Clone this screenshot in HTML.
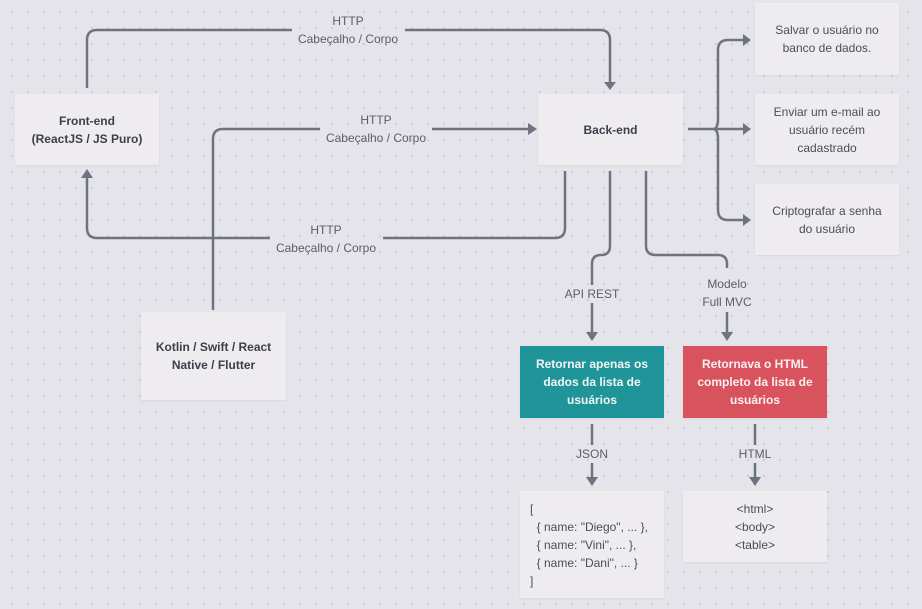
<!DOCTYPE html>
<html><head><meta charset="utf-8"><style>
html,body{margin:0;padding:0}
body{width:922px;height:609px;overflow:hidden;background-color:#e5e4eb;background-image:radial-gradient(circle,#c9c8d2 0.8px,transparent 1.2px);background-size:16px 16px;background-position:4px 4px;font-family:"Liberation Sans",sans-serif;position:relative}
.b{position:absolute;background:#efecf0;display:flex;align-items:center;justify-content:center;text-align:center;font-size:12px;line-height:18px;color:#4a4d58;box-shadow:0 1px 2px rgba(0,0,0,0.06)}
.bold{font-weight:bold;color:#3c3f4a}
.t{position:absolute;font-size:12px;line-height:18px;color:#5a5e6a;text-align:center;transform:translateX(-50%);white-space:nowrap}
svg{position:absolute;left:0;top:0}
</style></head><body>
<svg width="922" height="609" viewBox="0 0 922 609" fill="none" stroke="#6e7380" stroke-width="2.5">
<path d="M87 88 V40 Q87 30 97 30 H292 M405 30 H600 Q610 30 610 40 V82"/>
<path d="M213 310 V139 Q213 129 223 129 H320 M432 129 H528"/>
<path d="M565 171 V228 Q565 238 555 238 H383 M270 238 H97 Q87 238 87 228 V178"/>
<path d="M688 129 H713 M750 40 H728 Q718 40 718 50 V119 Q718 129 713 129 Q718 129 718 139 V210 Q718 220 728 220 H745 M713 129 H745 M728 40 H745"/>
<path d="M610 171 V246 Q610 255 601 255 Q592 255 592 264 V285 M592 303 V333"/>
<path d="M646 171 V246 Q646 255 656 255 H718 Q727 255 727 264 V268 M727 312 V333"/>
<path d="M592 424 V445 M592 463 V478 M755 424 V445 M755 463 V478"/>
<g fill="#6e7380" stroke="none">
<polygon points="604,82 616,82 610,90"/>
<polygon points="528,123 528,135 537,129"/>
<polygon points="81,178 93,178 87,169"/>
<polygon points="743,34 743,46 751,40"/>
<polygon points="743,123 743,135 751,129"/>
<polygon points="743,214 743,226 751,220"/>
<polygon points="586,332 598,332 592,341"/>
<polygon points="721,332 733,332 727,341"/>
<polygon points="586,477 598,477 592,486"/>
<polygon points="749,477 761,477 755,486"/>
</g>
</svg>
<div class="b bold" style="left:15px;top:94px;width:144px;height:71px">Front-end<br>(ReactJS / JS Puro)</div>
<div class="b bold" style="left:538px;top:94px;width:145px;height:71px">Back-end</div>
<div class="b" style="left:755px;top:3px;width:144px;height:72px">Salvar o usuário no<br>banco de dados.</div>
<div class="b" style="left:755px;top:94px;width:144px;height:71px">Enviar um e-mail ao<br>usuário recém<br>cadastrado</div>
<div class="b" style="left:755px;top:184px;width:144px;height:71px">Criptografar a senha<br>do usuário</div>
<div class="b bold" style="left:141px;top:312px;width:145px;height:88px">Kotlin / Swift / React<br>Native / Flutter</div>
<div class="b bold" style="left:520px;top:346px;width:144px;height:72px;background:#1f9499;color:#f2f5f5">Retornar apenas os<br>dados da lista de<br>usuários</div>
<div class="b bold" style="left:683px;top:346px;width:144px;height:72px;background:#d9535f;color:#fbf0f1">Retornava o HTML<br>completo da lista de<br>usuários</div>
<div class="b" style="left:520px;top:491px;width:144px;height:107px;justify-content:flex-start;text-align:left;padding-left:10px;box-sizing:border-box">[<br>&nbsp; { name: "Diego", ... },<br>&nbsp; { name: "Vini", ... },<br>&nbsp; { name: "Dani", ... }<br>]</div>
<div class="b" style="left:683px;top:491px;width:144px;height:71px">&lt;html&gt;<br>&lt;body&gt;<br>&lt;table&gt;</div>
<div class="t" style="left:348px;top:12px">HTTP<br>Cabeçalho / Corpo</div>
<div class="t" style="left:376px;top:111px">HTTP<br>Cabeçalho / Corpo</div>
<div class="t" style="left:326px;top:221px">HTTP<br>Cabeçalho / Corpo</div>
<div class="t" style="left:592px;top:285px">API REST</div>
<div class="t" style="left:727px;top:275px">Modelo<br>Full MVC</div>
<div class="t" style="left:592px;top:445px">JSON</div>
<div class="t" style="left:755px;top:445px">HTML</div>
</body></html>
